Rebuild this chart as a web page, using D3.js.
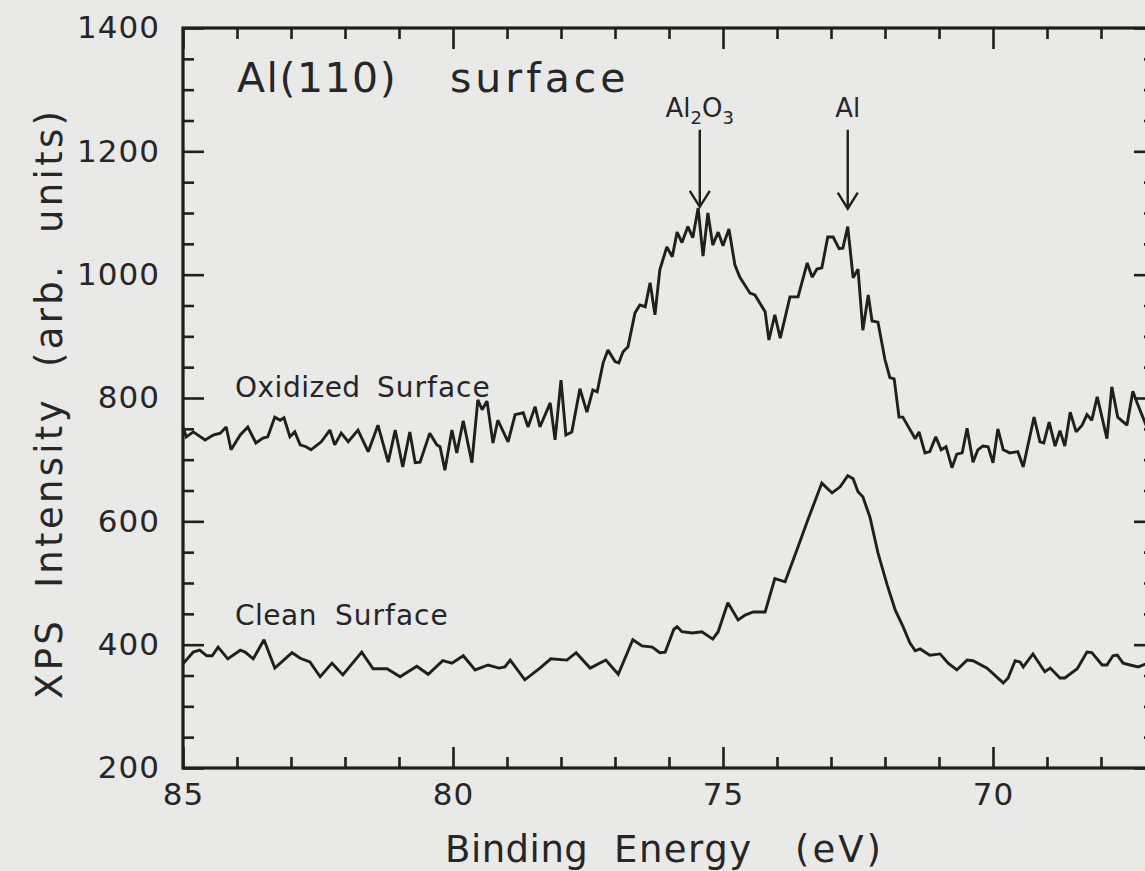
<!DOCTYPE html>
<html>
<head>
<meta charset="utf-8">
<script src="https://cdn.jsdelivr.net/npm/d3@7"></script>
<style>
  html, body { margin: 0; padding: 0; background: #e9e9e8; }
  svg { display: block; }
  text { font-family: 'DejaVu Sans', 'Liberation Sans', sans-serif; fill: #262626; }
</style>
</head>
<body>
<svg id="chart" width="1145" height="871"></svg>
<script>
// binding energy (eV) and intensity (arb. units)
const oxidizedEnergy = [
  85.00, 84.94, 84.81, 84.59, 84.44, 84.31, 84.20, 84.11, 83.94, 83.80,
  83.65, 83.52, 83.43, 83.30, 83.20, 83.13, 83.02, 82.93, 82.83, 82.72,
  82.63, 82.44, 82.28, 82.19, 82.07, 81.94, 81.76, 81.57, 81.39, 81.20,
  81.07, 80.93, 80.80, 80.70, 80.61, 80.43, 80.30, 80.24, 80.15, 80.02,
  79.93, 79.81, 79.65, 79.54, 79.46, 79.37, 79.26, 79.17, 78.98, 78.85,
  78.70, 78.61, 78.48, 78.39, 78.20, 78.11, 78.00, 77.91, 77.80, 77.65,
  77.52, 77.41, 77.33, 77.22, 77.13, 77.00, 76.93, 76.85, 76.76, 76.63,
  76.54, 76.44, 76.35, 76.26, 76.17, 76.04, 75.94, 75.85, 75.76, 75.65,
  75.56, 75.46, 75.37, 75.28, 75.19, 75.09, 75.00, 74.89, 74.78, 74.69,
  74.50, 74.41, 74.22, 74.15, 74.04, 73.94, 73.76, 73.61, 73.44, 73.35,
  73.26, 73.17, 73.06, 72.96, 72.85, 72.78, 72.69, 72.59, 72.50, 72.41,
  72.31, 72.24, 72.13, 72.00, 71.91, 71.83, 71.74, 71.67, 71.44, 71.37,
  71.26, 71.17, 71.06, 70.96, 70.87, 70.76, 70.67, 70.57, 70.48, 70.37,
  70.28, 70.19, 70.09, 70.00, 69.91, 69.81, 69.69, 69.54, 69.44, 69.24,
  69.13, 69.06, 68.96, 68.85, 68.76, 68.67, 68.57, 68.46, 68.35, 68.26,
  68.17, 68.07, 67.89, 67.80, 67.69, 67.52, 67.41, 67.33, 67.13,
];
const oxidizedCounts = [
  753, 737, 745, 732, 740, 743, 753, 716, 740, 753,
  727, 735, 737, 769, 764, 768, 737, 745, 724, 721,
  716, 729, 748, 724, 743, 729, 748, 713, 756, 696,
  748, 688, 745, 695, 696, 743, 724, 721, 683, 748,
  711, 763, 695, 797, 781, 795, 727, 764, 729, 773,
  776, 753, 786, 753, 792, 732, 829, 740, 745, 815,
  777, 813, 810, 857, 878, 859, 857, 875, 883, 938,
  951, 948, 987, 935, 1008, 1045, 1029, 1069, 1052, 1078,
  1060, 1108, 1030, 1100, 1048, 1069, 1047, 1074, 1016, 996,
  970, 967, 940, 894, 935, 897, 964, 964, 1019, 996,
  1009, 1011, 1061, 1061, 1042, 1043, 1078, 995, 1009, 910,
  967, 925, 923, 862, 833, 831, 769, 769, 734, 745,
  711, 713, 737, 716, 721, 687, 709, 711, 751, 696,
  716, 722, 721, 695, 750, 716, 711, 713, 688, 769,
  729, 727, 761, 722, 747, 722, 777, 745, 756, 773,
  764, 802, 734, 818, 769, 756, 811, 792, 748,
];

const cleanEnergy = [
  85.00, 84.81, 84.69, 84.56, 84.46, 84.35, 84.17, 83.94, 83.85, 83.70,
  83.50, 83.30, 82.98, 82.83, 82.65, 82.46, 82.24, 82.04, 81.69, 81.48,
  81.22, 80.98, 80.67, 80.46, 80.19, 80.02, 79.81, 79.59, 79.35, 79.15,
  79.04, 78.94, 78.67, 78.39, 78.19, 77.89, 77.72, 77.46, 77.17, 76.94,
  76.67, 76.50, 76.31, 76.17, 76.07, 75.91, 75.85, 75.76, 75.57, 75.39,
  75.19, 75.09, 74.91, 74.72, 74.59, 74.44, 74.22, 74.04, 73.85, 73.63,
  73.43, 73.17, 72.98, 72.83, 72.69, 72.59, 72.50, 72.41, 72.28, 72.13,
  71.96, 71.81, 71.67, 71.54, 71.44, 71.35, 71.17, 70.98, 70.83, 70.67,
  70.48, 70.37, 70.11, 69.81, 69.72, 69.59, 69.50, 69.44, 69.26, 69.04,
  68.94, 68.76, 68.67, 68.44, 68.26, 68.17, 67.98, 67.89, 67.78, 67.70,
  67.59, 67.46, 67.31, 67.13,
];
const cleanCounts = [
  369, 388, 391, 382, 382, 396, 377, 391, 388, 377,
  408, 362, 387, 378, 372, 348, 370, 351, 388, 361,
  361, 348, 365, 352, 374, 370, 382, 359, 367, 362,
  364, 375, 343, 362, 377, 375, 387, 362, 375, 352,
  408, 398, 396, 387, 388, 425, 429, 421, 419, 421,
  409, 421, 468, 440, 448, 453, 453, 507, 502, 554,
  602, 662, 646, 656, 674, 669, 648, 640, 607, 549,
  497, 456, 430, 403, 390, 393, 383, 385, 370, 359,
  375, 374, 362, 338, 346, 374, 372, 364, 385, 356,
  362, 346, 346, 361, 388, 387, 367, 367, 382, 383,
  370, 367, 364, 370,
];

const xTicks = [85, 80, 75, 70];
const yTicks = [200, 400, 600, 800, 1000, 1200, 1400];

// arrows marking the two Al 2p components
const peakNames = ['Al2O3', 'Al'];
const peakEnergy = [75.43, 72.69];
const peakArrowTop = [1235, 1235];
const peakArrowTip = [1110, 1107];

const svg = d3.select('#chart');
const width = 1145;
const height = 871;

svg.append('rect')
  .attr('width', width)
  .attr('height', height)
  .attr('fill', '#e9e9e8');

const x = d3.scaleLinear().domain([85, 67]).range([183, 1155]);
const y = d3.scaleLinear().domain([200, 1400]).range([768, 28]);

const minorX = d3.range(85, 66, -1).filter((d) => !xTicks.includes(d));
const minorY = d3.range(200, 1401, 50).filter((d) => !yTicks.includes(d));

const ink = '#1f1f1f';

const axisStyle = (g) => {
  g.select('.domain').remove();
  g.selectAll('line').attr('stroke', ink).attr('stroke-width', 2.6);
  g.selectAll('text')
    .attr('font-family', "'DejaVu Sans', sans-serif")
    .attr('font-size', 31)
    .attr('letter-spacing', 1)
    .attr('fill', '#262626');
};

// bottom
svg.append('g')
  .attr('transform', `translate(0,${y(200)})`)
  .call(d3.axisBottom(x).tickValues(xTicks).tickFormat(d3.format('d'))
    .tickSize(-21).tickPadding(15))
  .call(axisStyle);
svg.append('g')
  .attr('transform', `translate(0,${y(200)})`)
  .call(d3.axisBottom(x).tickValues(minorX).tickFormat('').tickSize(-11))
  .call(axisStyle);

// top
svg.append('g')
  .attr('transform', `translate(0,${y(1400)})`)
  .call(d3.axisTop(x).tickValues(xTicks).tickFormat('').tickSize(-21))
  .call(axisStyle);
svg.append('g')
  .attr('transform', `translate(0,${y(1400)})`)
  .call(d3.axisTop(x).tickValues(minorX).tickFormat('').tickSize(-11))
  .call(axisStyle);

// left
svg.append('g')
  .attr('transform', `translate(${x(85)},0)`)
  .call(d3.axisLeft(y).tickValues(yTicks).tickFormat(d3.format('d'))
    .tickSize(-21).tickPadding(23))
  .call(axisStyle);
svg.append('g')
  .attr('transform', `translate(${x(85)},0)`)
  .call(d3.axisLeft(y).tickValues(minorY).tickFormat('').tickSize(-11))
  .call(axisStyle);

// right
svg.append('g')
  .attr('transform', `translate(${x(67)},0)`)
  .call(d3.axisRight(y).tickValues(yTicks).tickFormat('').tickSize(-21))
  .call(axisStyle);
svg.append('g')
  .attr('transform', `translate(${x(67)},0)`)
  .call(d3.axisRight(y).tickValues(minorY).tickFormat('').tickSize(-11))
  .call(axisStyle);

// frame
svg.append('rect')
  .attr('x', x(85))
  .attr('y', y(1400))
  .attr('width', x(67) - x(85))
  .attr('height', y(200) - y(1400))
  .attr('fill', 'none')
  .attr('stroke', ink)
  .attr('stroke-width', 3.2);

const line = d3.line()
  .x((d) => x(d[0]))
  .y((d) => y(d[1]));

const series = [
  d3.zip(oxidizedEnergy, oxidizedCounts),
  d3.zip(cleanEnergy, cleanCounts),
];

svg.selectAll('path.spectrum')
  .data(series)
  .enter()
  .append('path')
  .attr('class', 'spectrum')
  .attr('d', line)
  .attr('fill', 'none')
  .attr('stroke', ink)
  .attr('stroke-width', 2.9)
  .attr('stroke-linejoin', 'miter')
  .attr('stroke-miterlimit', 2);

// peak arrows
const arrows = svg.selectAll('g.peak')
  .data(peakNames.map((name, i) => ({
    name,
    e: peakEnergy[i],
    top: peakArrowTop[i],
    tip: peakArrowTip[i],
  })))
  .enter()
  .append('g')
  .attr('class', 'peak');

arrows.append('line')
  .attr('x1', (d) => x(d.e))
  .attr('x2', (d) => x(d.e))
  .attr('y1', (d) => y(d.top))
  .attr('y2', (d) => y(d.tip))
  .attr('stroke', ink)
  .attr('stroke-width', 2.4);

arrows.append('path')
  .attr('d', (d) => {
    const px = x(d.e);
    const py = y(d.tip);
    return `M${px - 10},${py - 16}L${px},${py}L${px + 10},${py - 16}`;
  })
  .attr('fill', 'none')
  .attr('stroke', ink)
  .attr('stroke-width', 2.4);

const labels = arrows.append('text')
  .attr('x', (d) => x(d.e))
  .attr('y', (d) => y(d.top) - 13)
  .attr('text-anchor', 'middle')
  .attr('font-size', 26);

labels.each(function (d) {
  const t = d3.select(this);
  if (d.name === 'Al2O3') {
    t.append('tspan').text('Al');
    t.append('tspan').attr('dy', 7).attr('font-size', 18).text('2');
    t.append('tspan').attr('dy', -7).text('O');
    t.append('tspan').attr('dy', 7).attr('font-size', 18).text('3');
  } else {
    t.text(d.name);
  }
});

// words placed one by one: the plotter font spaces them wider
const words = (sel, list) => {
  list.forEach(([text, px, spacing]) => {
    sel.append('tspan')
      .attr('x', px)
      .attr('letter-spacing', spacing)
      .text(text);
  });
  return sel;
};

svg.append('text')
  .attr('y', 92)
  .attr('font-size', 41)
  .call(words, [['Al(110)', 237, 1.5], ['surface', 450, 4]]);

svg.append('text')
  .attr('y', 397)
  .attr('font-size', 28)
  .call(words, [['Oxidized', 235, 0.5], ['Surface', 377, 1]]);

svg.append('text')
  .attr('y', 625)
  .attr('font-size', 28)
  .call(words, [['Clean', 235, 0.5], ['Surface', 335, 1]]);

svg.append('text')
  .attr('y', 862)
  .attr('font-size', 37)
  .call(words, [['Binding', 445, 0.5], ['Energy', 614, 1.5], ['(eV)', 795, 3]]);

svg.append('text')
  .attr('transform', `translate(62,${y(800) + 7}) rotate(-90)`)
  .attr('text-anchor', 'middle')
  .attr('font-size', 37)
  .attr('textLength', 588)
  .attr('lengthAdjust', 'spacing')
  .style('white-space', 'pre')
  .text('XPS  Intensity  (arb.  units)');
</script>
</body>
</html>
